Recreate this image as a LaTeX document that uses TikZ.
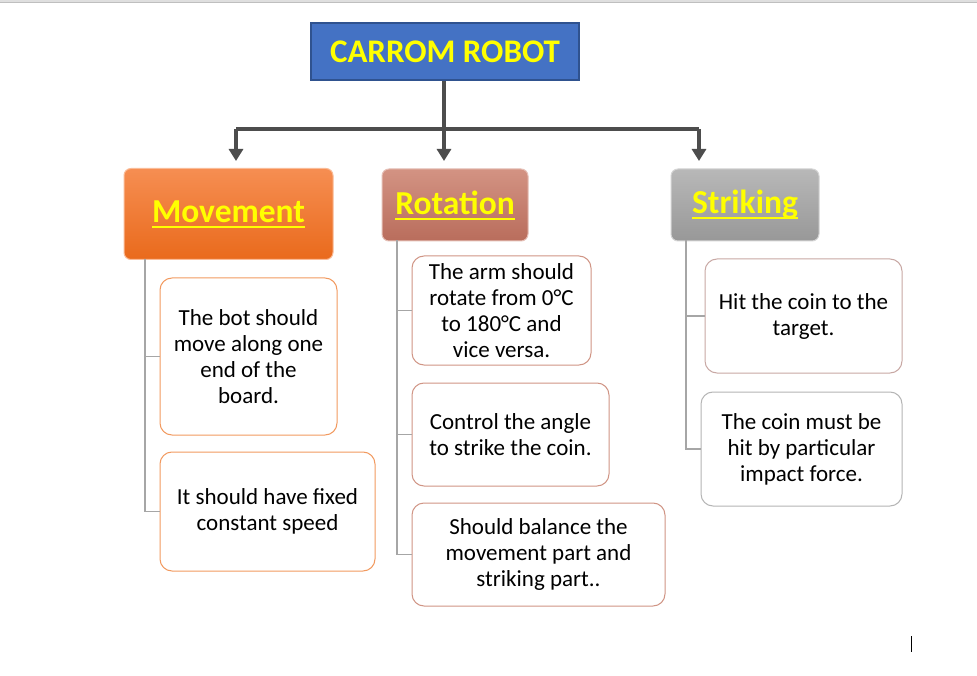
\documentclass[tikz,border=0pt]{standalone}
\usepackage{fontspec}
\setmainfont{Carlito}
\usetikzlibrary{arrows.meta}
\newcommand\thickul[1]{\setbox0\hbox{#1}\leavevmode\rlap{\vrule height -3.5pt depth 5.5pt width \wd0}\box0}
\definecolor{titleblue}{HTML}{4472C4}
\definecolor{titleedge}{HTML}{2F528F}
\definecolor{ttext}{HTML}{FFFF00}
\definecolor{connector}{HTML}{4D4D4D}
\definecolor{treeline}{HTML}{A6A6A6}
\definecolor{movtop}{HTML}{F68E52}
\definecolor{movbot}{HTML}{E96A1C}
\definecolor{rottop}{HTML}{D39383}
\definecolor{rotbot}{HTML}{B96D5C}
\definecolor{strtop}{HTML}{B8B8B8}
\definecolor{strbot}{HTML}{989898}
\definecolor{movedge}{HTML}{F29A60}
\definecolor{rotedge}{HTML}{D09585}
\definecolor{stredgeA}{HTML}{C8A8A4}
\definecolor{stredgeB}{HTML}{B5B5B5}
\tikzset{
  titlebox/.style={draw=titleedge, line width=1.5pt, fill=titleblue, inner sep=0pt,
    text=ttext, font=\fontsize{33}{38}\selectfont\bfseries},
  header/.style={rounded corners=7pt, inner sep=0pt, line width=1pt,
    text=ttext, font=\fontsize{33.5}{38}\selectfont\bfseries},
  leaf/.style={draw, fill=white, rounded corners=12pt, inner sep=0pt, line width=1pt,
    align=center, text=black, font=\fontsize{23}{26}\selectfont},
  bar/.style={connector, line width=4pt},
  arr/.style={connector, line width=4pt, -{Triangle[length=12pt,width=14pt]}},
  tree/.style={treeline, line width=1.5pt},
}
\begin{document}
\begin{tikzpicture}[x=1pt,y=-1pt]
\useasboundingbox (0,0) rectangle (977,676);
\fill[white] (0,0) rectangle (977,676);
\fill[gray!25] (0,0) rectangle (977,2);
\draw[gray!50, line width=0.8pt] (0,2.5) -- (977,2.5);

% title
\node[titlebox, minimum width=268pt, minimum height=57pt] (title) at (445,51.5) {CARROM ROBOT};

% headers
\node[header, draw=movtop!60!white, top color=movtop, bottom color=movbot,
  minimum width=209pt, minimum height=91pt] (mov) at (228.5,214) {\thickul{Movement}};
\node[header, draw=rottop!60!white, top color=rottop, bottom color=rotbot,
  minimum width=146pt, minimum height=72pt] (rot) at (455,205) {\thickul{Rotation}};
\node[header, draw=strtop!60!white, top color=strtop, bottom color=strbot,
  minimum width=148pt, minimum height=72pt] (str) at (745,205) {\thickul{Striking}};

% connectors
\coordinate (jl) at (236,129);
\coordinate (jr) at (699,129);
\coordinate (tl) at (236,161);
\coordinate (tm) at (444,161);
\coordinate (tr) at (699,161);
\draw[bar] (jl) -- (jr);
\draw[arr] (jl) -- (tl);
\draw[arr] (jr) -- (tr);
\draw[arr] (title.south -| tm) -- (tm);

% movement leaves
\node[leaf, draw=movedge, minimum width=177pt, minimum height=157pt] (m1) at (248.5,356.5)
  {The bot should\\move along one\\end of the\\board.};
\node[leaf, draw=movedge, minimum width=215pt, minimum height=119pt] (m2) at (267.5,511.5)
  {It should have fixed\\constant speed};

% rotation leaves
\node[leaf, draw=rotedge, minimum width=179pt, minimum height=109pt] (r1) at (501.5,310.5)
  {The arm should\\rotate from 0°C\\to 180°C and\\vice versa.};
\node[leaf, draw=rotedge, minimum width=197pt, minimum height=103pt] (r2) at (510.5,434.5)
  {Control the angle\\to strike the coin.};
\node[leaf, draw=rotedge, minimum width=253pt, minimum height=103pt] (r3) at (538.5,554.5)
  {Should balance the\\movement part and\\striking part..};

% striking leaves
\node[leaf, draw=stredgeA, minimum width=197pt, minimum height=114pt] (s1) at (803.5,316)
  {Hit the coin to the\\target.};
\node[leaf, draw=stredgeB, minimum width=201pt, minimum height=114pt] (s2) at (801.5,449)
  {The coin must be\\hit by particular\\impact force.};

% tree lines
\coordinate (mv) at (145,259);
\draw[tree] (mv) |- (m2.west);
\draw[tree] (mv |- m1.west) -- (m1.west);
\coordinate (rv) at (397,240);
\draw[tree] (rv) |- (r3.west);
\draw[tree] (rv |- r1.west) -- (r1.west);
\draw[tree] (rv |- r2.west) -- (r2.west);
\coordinate (sv) at (686,240);
\draw[tree] (sv) |- (s2.west);
\draw[tree] (sv |- s1.west) -- (s1.west);

% text cursor
\draw[black, line width=1pt] (911,636) -- (911,652);
\end{tikzpicture}
\end{document}
